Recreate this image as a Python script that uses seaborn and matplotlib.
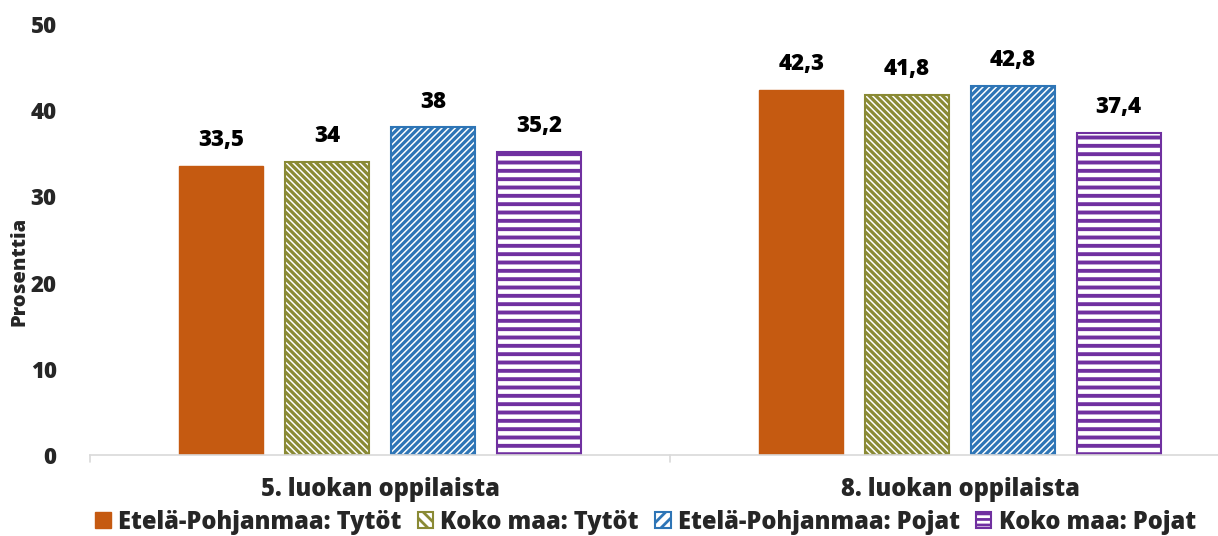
import matplotlib
matplotlib.use("Agg")
import matplotlib.pyplot as plt
import seaborn as sns
import pandas as pd
from matplotlib.patches import Patch

categories = ["5. luokan oppilaista", "8. luokan oppilaista"]
series = ["Etelä-Pohjanmaa: Tytöt", "Koko maa: Tytöt", "Etelä-Pohjanmaa: Pojat", "Koko maa: Pojat"]
ep_tytot = [33.5, 42.3]
koko_tytot = [34, 41.8]
ep_pojat = [38, 42.8]
koko_pojat = [35.2, 37.4]
yticks = [0, 10, 20, 30, 40, 50]

colors = ["#C55A11", "#8A8A35", "#2E75B6", "#7030A0"]
hatches = [None, "\\" * 5, "/" * 5, "--"]
hatch_lw = [1.0, 2.3, 2.3, 2.8]

rows = []
for s, vals in zip(series, [ep_tytot, koko_tytot, ep_pojat, koko_pojat]):
    for c, v in zip(categories, vals):
        rows.append({"cat": c, "series": s, "value": v})
df = pd.DataFrame(rows)

sns.set_theme(style="white")
plt.rcParams["font.family"] = ["Open Sans", "DejaVu Sans"]
plt.rcParams["hatch.linewidth"] = 2.0

fig = plt.figure(figsize=(12.18, 5.36), dpi=100)
ax = fig.add_axes([90/1218, 81/536, 1160/1218, 431/536])

sns.barplot(data=df, x="cat", y="value", hue="series", order=categories,
            hue_order=series, palette=colors, width=0.73, gap=0.21,
            errorbar=None, ax=ax, legend=False)


def style_patch(p, i):
    if hatches[i] is None:
        p.set_facecolor(colors[i])
        p.set_edgecolor(colors[i])
    else:
        p.set_facecolor("white")
        p.set_edgecolor(colors[i])
        p.set_hatch(hatches[i])
        p.set_linewidth(1.5)
        if hasattr(p, "set_hatch_linewidth"):
            p.set_hatch_linewidth(hatch_lw[i])


for i, container in enumerate(ax.containers):
    for bar in container:
        style_patch(bar, i)
    labels = [f"{v:g}".replace(".", ",") for v in container.datavalues]
    ax.bar_label(container, labels=labels, padding=10, fontsize=16,
                 fontweight=800, color="black")

ax.set_ylim(0, 50)
ax.set_yticks(yticks)
ax.set_xlim(-0.5, 1.5)
ax.tick_params(axis="y", length=0, labelsize=16, pad=24)
ax.tick_params(axis="x", length=0, labelsize=17, pad=16)
for lab in ax.get_yticklabels() + ax.get_xticklabels():
    lab.set_fontweight(800)
ax.set_xlabel("")
ax.set_ylabel("Prosenttia", fontsize=14.5, fontweight=800)
ax.yaxis.set_label_coords(-0.052, 0.425)
for side in ["top", "right", "left"]:
    ax.spines[side].set_visible(False)
ax.spines["bottom"].set_color("#D9D9D9")
ax.spines["bottom"].set_linewidth(1.2)
for xs in [-0.5, 0.5]:
    ax.plot([xs, xs], [0, -0.8], color="#D9D9D9", lw=1.2, clip_on=False)
ax.grid(False)

handles = []
for i, s in enumerate(series):
    h = Patch(label=s)
    style_patch(h, i)
    if hatches[i] is not None:
        h.set_hatch(hatches[i][:3] if i < 3 else "---")
    handles.append(h)
fig.legend(handles=handles, loc="center", bbox_to_anchor=(0.53, 0.026), ncol=4,
           frameon=False, prop={"weight": 800, "size": 17}, handlelength=0.65,
           handleheight=0.65, handletextpad=0.3, columnspacing=0.7)

fig.savefig("out.png", dpi=100)
